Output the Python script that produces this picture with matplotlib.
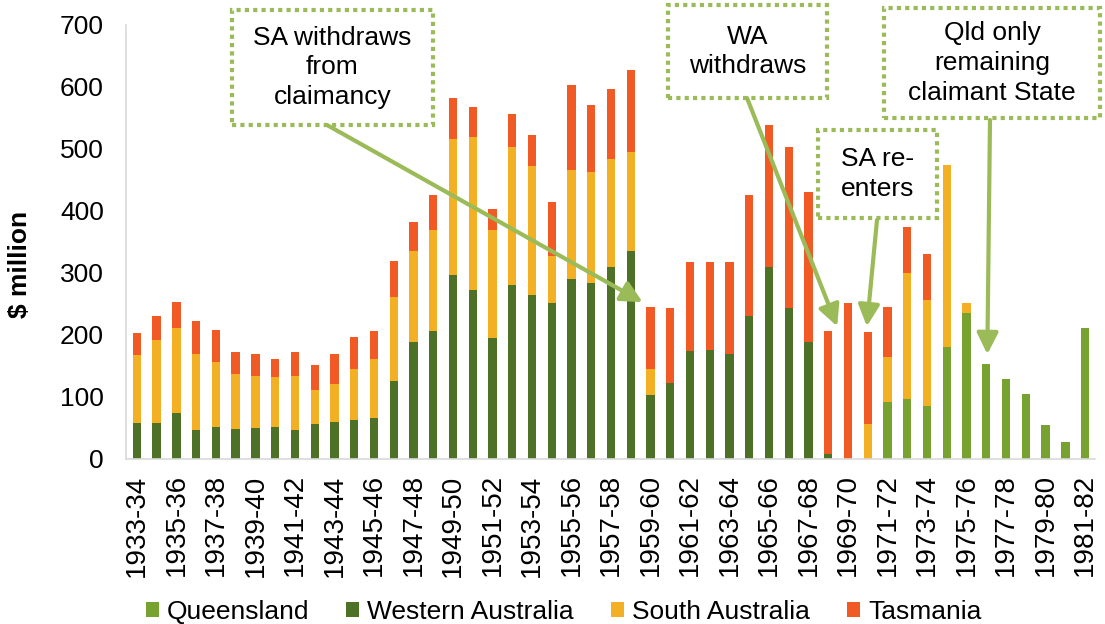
import matplotlib
matplotlib.use("Agg")
import matplotlib.pyplot as plt
from matplotlib.patches import Rectangle
import numpy as np

plt.rcParams['font.family'] = ['Liberation Sans', 'DejaVu Sans']

years = ['%d-%02d' % (y, (y + 1) % 100) for y in range(1933, 1982)]

queensland = [0] * 38 + [92, 97, 86, 181, 236, 154, 129, 105, 55, 27, 212]
western_australia = [58, 58, 74, 47, 51, 48, 50, 52, 47, 56,
                     59, 63, 66, 126, 189, 206, 296, 272, 195, 281,
                     265, 251, 290, 284, 310, 336, 103, 122, 175, 176,
                     169, 230, 310, 244, 189, 8] + [0] * 13
south_australia = [110, 134, 137, 122, 106, 89, 84, 80, 87, 55,
                   62, 82, 96, 135, 146, 163, 220, 248, 174, 222,
                   208, 76, 176, 179, 174, 159, 42, 0, 0, 0,
                   0, 0, 0, 0, 0, 0, 0, 56, 73, 203,
                   170, 293, 16, 0, 0, 0, 0, 0, 0]
tasmania = [36, 39, 42, 54, 51, 35, 36, 30, 38, 41,
            49, 51, 44, 58, 48, 57, 67, 47, 34, 53,
            50, 88, 137, 108, 112, 132, 100, 121, 142, 141,
            148, 196, 229, 260, 241, 198, 251, 149, 80, 74,
            75, 0, 0, 0, 0, 0, 0, 0, 0]

series = [('Queensland', queensland, '#78A22F'),
          ('Western Australia', western_australia, '#4E7128'),
          ('South Australia', south_australia, '#F4B025'),
          ('Tasmania', tasmania, '#F15A24')]

GREEN = '#9BBB59'
FS = 19

fig = plt.figure(figsize=(11.05, 6.24), dpi=100)
ax = fig.add_axes([126 / 1105, 1 - 459 / 624, 969 / 1105, 434 / 624])

x = np.arange(len(years))
bottom = np.zeros(len(years))
for name, vals, col in series:
    vals = np.array(vals, dtype=float)
    ax.bar(x, vals, 0.42, bottom=bottom, color=col, label=name, linewidth=0)
    bottom += vals

ax.set_xlim(-0.55, 48.5)
ax.set_ylim(0, 700)
ax.set_yticks(range(0, 701, 100))
ax.set_xticks(x[::2])
ax.set_xticklabels(years[::2], rotation=90)
ax.tick_params(axis='y', length=0, pad=16, labelsize=FS)
ax.tick_params(axis='x', length=0, pad=11, labelsize=20)
for s in ['top', 'right']:
    ax.spines[s].set_visible(False)
for s in ['left', 'bottom']:
    ax.spines[s].set_color('#D9D9D9')
    ax.spines[s].set_linewidth(1.2)

fig.text(20 / 1105, 1 - 264 / 624, '$ million', rotation=90, fontsize=FS,
         fontweight='bold', ha='center', va='center')

# annotation boxes (pixel coords, top-left origin) and arrow tips (data coords)
notes = [
    ('SA withdraws\nfrom\nclaimancy', (232, 10, 433, 125), (327, 125), (25.6, 253)),
    ('WA\nwithdraws', (668, 5, 827, 98), (747, 98), (35.45, 214)),
    ('SA re-\nenters', (818, 130, 937, 218), (877, 220), (36.95, 214)),
    ('Qld only\nremaining\nclaimant State', (884, 8, 1100, 118), (990, 120), (43.05, 169)),
]
for txt, (x0, y0, x1, y1), (sx, sy), tip in notes:
    rect = Rectangle((x0, 624 - y1), x1 - x0, y1 - y0, transform=None,
                     fill=False, edgecolor=GREEN, linewidth=3,
                     linestyle=(0, (1, 1)), clip_on=False)
    fig.patches.append(rect)
    fig.text((x0 + x1) / 2 / 1105, 1 - (y0 + y1) / 2 / 624, txt, ha='center',
             va='center', fontsize=FS, linespacing=1.3)
    ax.annotate('', xy=tip, xycoords='data', xytext=(sx, 624 - sy),
                textcoords='figure pixels',
                arrowprops=dict(arrowstyle='-|>', color=GREEN, lw=3,
                                mutation_scale=32, shrinkA=0, shrinkB=0),
                annotation_clip=False)

fig.legend(loc='center', bbox_to_anchor=(0.51, 12 / 624), ncol=4, frameon=False,
           fontsize=FS, handlelength=0.5, handleheight=0.5,
           handletextpad=0.3, columnspacing=1.4)

fig.savefig('out.png', dpi=100)
